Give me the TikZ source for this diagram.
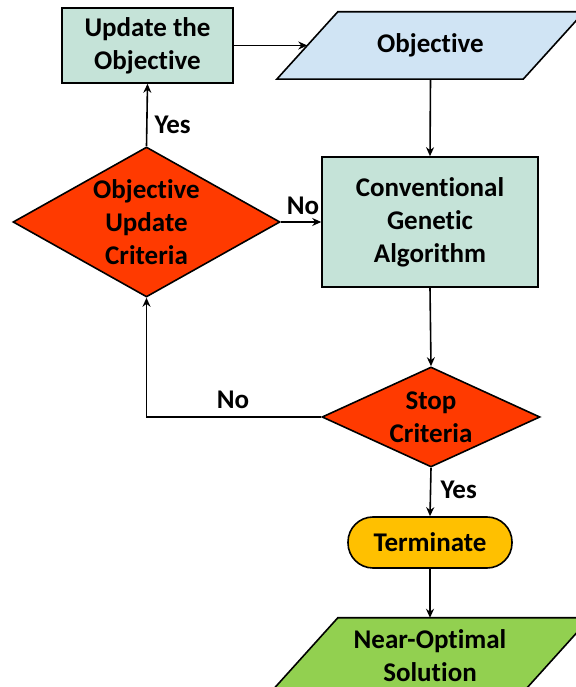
\documentclass[tikz,border=0pt]{standalone}
\usepackage{fontspec}
\setmainfont{Carlito}[Ligatures=NoCommon]
\usetikzlibrary{shapes.geometric,arrows.meta,backgrounds}

\definecolor{boxgreen}{HTML}{C5E3D8}
\definecolor{objblue}{HTML}{D0E4F4}
\definecolor{critred}{HTML}{FF3A00}
\definecolor{termgold}{HTML}{FFC000}
\definecolor{solgreen}{HTML}{92D050}

\tikzset{
  every node/.style={font=\fontsize{27}{33}\selectfont\bfseries, align=center},
  procbox/.style={draw, line width=1.6pt, fill=boxgreen, inner sep=0pt},
  iobox/.style={inner sep=0pt},
  ioline/.style={draw, line width=1.6pt, line join=miter},
  critbox/.style={draw, line width=1.6pt, diamond, fill=critred, inner sep=0pt},
  flow/.style={line width=1.6pt, -{Stealth[length=9pt,width=8pt]}},
  lbl/.style={font=\fontsize{27}{31}\selectfont\bfseries}
}

\begin{document}
\begin{tikzpicture}[x=1pt,y=1pt]
\useasboundingbox (0,0) rectangle (575,687);

\node [procbox, minimum width=171, minimum height=75] (update) at (147.5,641.5) {Update the\\Objective};
\node [iobox, minimum width=246, minimum height=67] (obj) at (430.5,641.5) {Objective};
\node [procbox, minimum width=216, minimum height=130] (ga) at (430,465) {Conventional\\Genetic\\Algorithm};
\node [critbox, minimum width=267, minimum height=150,
       label=center:{Objective\\Update\\Criteria}] (objcrit) at (146.5,465) {};
\node [critbox, minimum width=218, minimum height=100,
       label=center:{Stop\\Criteria}] (stop) at (431,270) {};
\node [draw, line width=1.6pt, fill=termgold, rounded corners=25pt,
       minimum width=164, minimum height=51] (term) at (430,144.5) {Terminate};
\node [iobox, minimum width=252, minimum height=75] (sol) at (430,31.5) {Near-Optimal\\Solution};

% parallelograms behind the input/output text
\begin{scope}[on background layer]
\filldraw [ioline, fill=objblue] ([xshift=30.5]obj.north west) -- ([xshift=30.5]obj.north east)
    -- ([xshift=-30.5]obj.south east) -- ([xshift=-30.5]obj.south west) -- cycle;
\filldraw [ioline, fill=solgreen] ([xshift=34]sol.north west) -- ([xshift=34]sol.north east)
    -- ([xshift=-34]sol.south east) -- ([xshift=-34]sol.south west) -- cycle;
\end{scope}

\draw [flow] (update.east) -- (obj.west);
\draw [flow] (obj.south) -- (ga.north);
\draw [flow] (ga.south) -- (stop.north);
\draw [flow] (stop.south) -- (term.north);
\draw [flow] (term.south) -- (sol.north);
\draw [flow] (objcrit.east) -- (ga.west);
\draw [flow] (objcrit.north) -- (update.south);
\draw [flow] (stop.west) -| (objcrit.south);

    \node [lbl, anchor=west] (yes1) at (151,562) {Yes};   % to update
    \node [lbl] (no1) at (303,481) {No};                  % to GA
    \node [lbl] (no2) at (233,287) {No};                  % back to criteria
    \node [lbl, anchor=west] (yes2) at (437,197) {Yes};   % to terminate
\end{tikzpicture}
\end{document}
